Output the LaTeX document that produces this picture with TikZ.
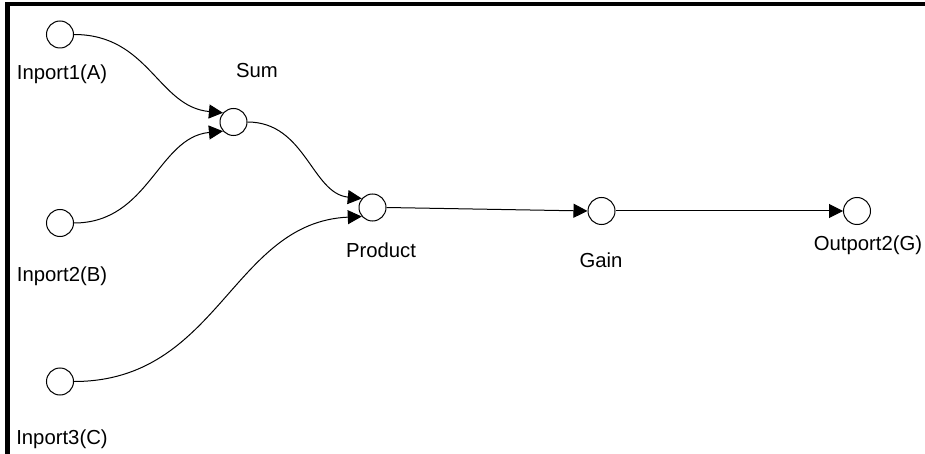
\documentclass[tikz,border=0pt]{standalone}
\usepackage{fontspec}
\setmainfont{Liberation Sans}
\usetikzlibrary{arrows.meta}

\begin{document}
\begin{tikzpicture}[
    x=1pt, y=-1pt,
    port/.style={draw, circle, line width=1pt, minimum size=27pt, inner sep=0pt, fill=white},
    lbl/.style={anchor=base, inner sep=0pt, font=\fontsize{20.3}{24}\selectfont},
    edge/.style={line width=1pt, -{Triangle[length=14pt, width=14pt]}},
  ]
  \useasboundingbox[fill=white] (0,0) rectangle (925,454);

  % frame along the top and left edges
  \draw[line width=4.5pt] (7.5,460) -- (7.5,4) -- (930,4);

  % blocks
  \node[port] (in1)  at (60,34.5)   {};
  \node[port] (in2)  at (60,223)    {};
  \node[port] (in3)  at (60,381.5)  {};
  \node[port] (sum)  at (233.5,122) {};
  \node[port] (prod) at (372.5,207.5) {};
  \node[port] (gain) at (601.5,211) {};
  \node[port] (out)  at (857,211)   {};

  % block names
  \node[lbl] (lin1)  at (62,80)    {Inport1(A)};
  \node[lbl] (lin2)  at (62,281)   {Inport2(B)};
  \node[lbl] (lin3)  at (62,444)   {Inport3(C)};
  \node[lbl] (lsum)  at (257,78)   {Sum};
  \node[lbl] (lprod) at (381,257.5) {Product};
  \node[lbl] (lgain) at (601,267.5) {Gain};
  \node[lbl] (lout)  at (868,250)  {Outport2(G)};

  % signal lines
  \draw[edge] (in1.east) .. controls +(75,0) and +(-65,-6) .. (sum.139);
  \draw[edge] (in2.east) .. controls +(75,0) and +(-65,6) .. (sum.221);
  \draw[edge] (sum.east) .. controls +(58,0) and +(-50,-5) .. (prod.140);
  \draw[edge] (in3.east) .. controls +(145,0) and +(-130,6) .. (prod.220);
  \draw[edge] (prod.east) -- (gain.west);
  \draw[edge] (gain.east) -- (out.west);
\end{tikzpicture}
\end{document}
